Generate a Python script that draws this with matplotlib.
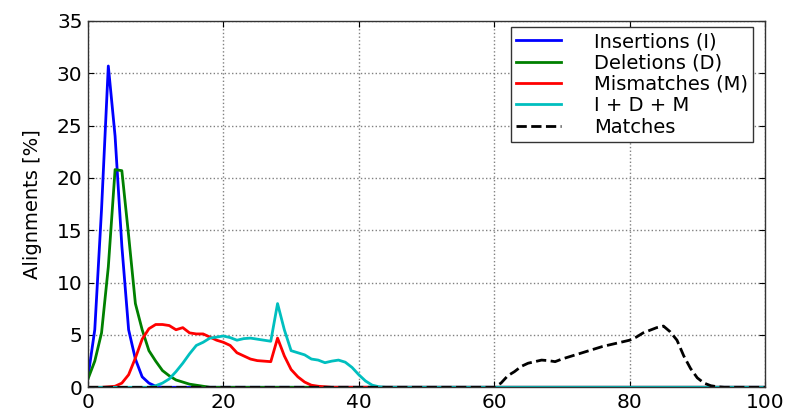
#!/usr/bin/env python3
import numpy as np
import matplotlib
matplotlib.use("Agg")
import matplotlib.pyplot as plt

# x axis: number of events per alignment, 0..100
x = np.arange(0, 101)

# values (percent of alignments), one per integer x
insertions = [1.0, 5.5, 17.0, 30.7, 24.0, 13.5, 5.5, 2.7, 1.0, 0.4, 0.1]
deletions = [0.8, 2.5, 5.2, 11.5, 20.8, 20.7, 14.5, 8.0, 5.5, 3.5, 2.5, 1.6, 1.1, 0.7,
             0.5, 0.3, 0.2, 0.1]
mismatches = [0.0, 0.0, 0.0, 0.05, 0.1, 0.4, 1.2, 2.8, 4.6, 5.6, 6.0, 6.0, 5.9, 5.5,
              5.7, 5.2, 5.1, 5.1, 4.8, 4.5, 4.3, 4.0, 3.3, 3.0, 2.7, 2.55, 2.5, 2.45,
              4.7, 3.0, 1.7, 1.0, 0.5, 0.2, 0.1, 0.05]
combined = [0.0, 0.0, 0.0, 0.0, 0.0, 0.0, 0.0, 0.0, 0.0, 0.0, 0.15, 0.4, 0.8, 1.5,
            2.3, 3.2, 4.0, 4.3, 4.7, 4.8, 4.9, 4.75, 4.5, 4.65, 4.7, 4.6, 4.5, 4.4,
            8.0, 5.5, 3.5, 3.3, 3.1, 2.7, 2.6, 2.35, 2.5, 2.6, 2.4, 1.9, 1.2, 0.6,
            0.2, 0.05]
# matches start at x = 60
matches_start = 60
matches = [0.0, 0.4, 1.1, 1.5, 2.0, 2.3, 2.45, 2.6, 2.55, 2.45, 2.7, 2.9, 3.1, 3.3,
           3.5, 3.7, 3.9, 4.05, 4.2, 4.35, 4.5, 4.8, 5.2, 5.45, 5.7, 5.85, 5.3, 4.5,
           3.0, 1.8, 0.9, 0.4, 0.15, 0.05]

labels = ["Insertions (I)", "Deletions (D)", "Mismatches (M)", "I + D + M", "Matches"]


def pad(values, start=0):
	# fill the rest of the 0..100 range with zeros
	out = np.zeros(len(x))
	out[start:start + len(values)] = values
	return out


fig = plt.figure(figsize=(7.87, 4.11), dpi=100)
fig.patch.set_facecolor("white")
ax = fig.add_axes([88 / 787, 1 - 387.3 / 411, 677 / 787, (387.3 - 21) / 411])

lw = 2.0
ax.plot(x, pad(insertions), color="b", lw=lw, label=labels[0])
ax.plot(x, pad(deletions), color="g", lw=lw, label=labels[1])
ax.plot(x, pad(mismatches), color="r", lw=lw, label=labels[2])
ax.plot(x, pad(combined), color="c", lw=lw, label=labels[3])
ax.plot(x, pad(matches, matches_start), color="k", lw=lw, ls="--", label=labels[4])

ax.set_xlim(0, 100)
ax.set_ylim(0, 35)
ax.set_xticks(range(0, 101, 20))
ax.set_yticks(range(0, 36, 5))
ax.grid(True, color="0.5", ls=":", lw=1.0)

ax.tick_params(direction="in", top=True, right=True, length=4, labelsize=14.5, pad=4)
for s in ax.spines.values():
	s.set_linewidth(1.0)
	s.set_color("0.2")

ax.set_ylabel("Alignments [%]", fontsize=14)
ax.yaxis.set_label_coords(-0.068, 0.5)

leg = ax.legend(loc="upper right", bbox_to_anchor=(0.9823, 0.9836), borderaxespad=0,
				fontsize=14, handlelength=2.3, handletextpad=1.7, labelspacing=0.12,
				borderpad=0.27, fancybox=False, framealpha=1.0)
leg.get_frame().set_edgecolor("0.2")
leg.get_frame().set_linewidth(1.0)

fig.savefig("out.png", dpi=100, facecolor="white")
plt.close()
